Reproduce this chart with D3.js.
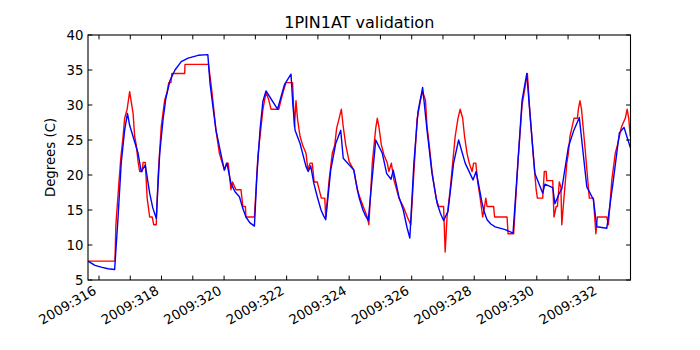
<!DOCTYPE html>
<html><head><meta charset="utf-8">
<script src="https://cdn.jsdelivr.net/npm/d3@7"></script>
<style>
html,body{margin:0;padding:0;background:#fff;}
svg{display:block;font-family:"DejaVu Sans",sans-serif;}
</style></head>
<body><svg id="c" width="700" height="350"></svg>
<script>
const title = "1PIN1AT validation";
const yLabel = "Degrees (C)";
const yTicks = [5,10,15,20,25,30,35,40];
const xTickDays = [316,317,318,319,320,321,322,323,324,325,326,327,328,329,330,331,332];
const xLabelDays = [316,318,320,322,324,326,328,330,332];
const xLabels = ["2009:316","2009:318","2009:320","2009:322","2009:324","2009:326","2009:328","2009:330","2009:332"];

const redDays = [315.65,316.51,316.54,316.64,316.70,316.77,316.82,316.90,316.98,317.09,317.14,317.19,317.25,317.30,317.38,317.41,317.48,317.54,317.62,317.70,317.75,317.83,317.89,317.99,318.10,318.18,318.23,318.30,318.33,318.74,318.75,319.50,319.58,319.64,319.74,319.85,319.93,320.01,320.08,320.13,320.22,320.27,320.38,320.54,320.60,320.68,320.70,320.97,321.08,321.24,321.34,321.43,321.50,321.75,321.82,321.89,321.98,322.19,322.25,322.30,322.35,322.43,322.51,322.62,322.68,322.75,322.82,322.88,322.98,323.04,323.11,323.22,323.25,323.36,323.46,323.54,323.60,323.68,323.75,323.81,323.89,324.00,324.15,324.26,324.35,324.45,324.58,324.63,324.74,324.85,324.90,324.95,325.03,325.11,325.22,325.27,325.35,325.43,325.52,325.59,325.73,325.86,325.97,326.17,326.28,326.35,326.44,326.49,326.56,326.65,326.70,326.78,326.86,327.02,327.07,327.13,327.23,327.31,327.39,327.48,327.55,327.63,327.69,327.77,327.84,327.93,327.98,328.05,328.11,328.19,328.27,328.33,328.37,328.41,328.62,328.65,329.05,329.08,329.26,329.40,329.53,329.70,329.76,329.89,329.98,330.02,330.19,330.24,330.30,330.32,330.51,330.55,330.62,330.66,330.72,330.77,330.80,330.96,331.01,331.06,331.12,331.19,331.30,331.33,331.38,331.43,331.54,331.68,331.81,331.89,331.94,332.24,332.29,332.40,332.51,332.58,332.64,332.71,332.83,332.89,332.94,332.99];
const redTemps = [7.7,7.7,12.9,19.1,22.6,25.5,28.1,29.4,31.9,28.8,25.5,24.3,21.9,20.5,20.5,21.8,21.8,16.7,14.0,14.0,12.9,12.9,19.8,26.9,30.7,31.9,33.2,33.2,34.5,34.5,35.8,35.8,33.1,30.7,26.4,23.1,21.9,20.7,21.7,21.7,17.9,19.0,17.9,17.9,15.5,15.5,14.0,14.0,22.6,29.3,31.8,30.7,29.4,29.4,30.7,31.9,33.2,33.2,26.9,30.6,27.9,25.5,24.3,23.1,20.7,21.7,21.7,19.0,19.0,17.9,16.7,16.7,14.0,19.3,23.1,24.3,26.7,28.1,29.4,26.9,24.3,21.9,20.7,17.9,16.7,15.5,14.0,12.9,21.7,26.7,28.1,26.9,24.3,22.9,21.7,20.5,21.7,19.3,17.9,16.7,15.5,14.0,12.9,27.9,30.7,31.9,30.7,26.9,24.3,20.5,19.0,16.7,15.5,15.5,9.0,14.0,17.9,21.7,25.5,28.1,29.4,28.1,25.5,23.1,21.7,20.5,21.7,21.7,19.0,16.7,14.0,15.5,16.7,15.5,15.5,14.0,14.0,11.6,11.6,22.0,30.0,34.5,30.2,22.6,17.9,16.7,16.7,20.5,20.5,19.2,19.2,14.0,15.5,15.5,19.0,18.3,12.9,21.7,23.1,25.5,26.7,28.1,28.1,29.4,30.6,29.4,24.0,16.7,16.7,11.6,14.0,14.0,12.9,19.3,23.1,24.3,25.5,26.9,28.1,29.4,28.1,25.5];

const blueDays = [315.65,315.87,316.10,316.29,316.50,316.61,316.71,316.82,316.91,316.98,317.25,317.35,317.48,317.62,317.72,317.83,317.94,318.05,318.14,318.27,318.43,318.63,318.85,319.17,319.48,319.55,319.65,319.74,319.96,320.01,320.09,320.22,320.35,320.49,320.60,320.70,320.82,320.97,321.05,321.15,321.24,321.34,321.71,321.93,322.14,322.20,322.27,322.43,322.62,322.69,322.77,322.87,322.98,323.10,323.18,323.25,323.41,323.57,323.73,323.81,324.15,324.22,324.31,324.44,324.52,324.61,324.85,325.06,325.20,325.34,325.41,325.59,325.73,325.85,325.94,326.07,326.20,326.35,326.49,326.65,326.81,326.92,327.02,327.16,327.34,327.50,327.71,327.96,328.06,328.25,328.33,328.41,328.53,328.67,328.99,329.24,329.37,329.53,329.68,329.78,329.94,330.19,330.26,330.51,330.58,330.72,330.80,331.01,331.17,331.36,331.60,331.81,331.92,332.24,332.45,332.64,332.79,332.88,333.00];
const blueTemps = [7.7,7.1,6.8,6.6,6.5,14.0,21.7,26.4,28.8,27.1,23.1,20.5,21.4,17.4,15.3,13.8,23.0,28.0,31.0,33.5,35.0,36.2,36.7,37.1,37.2,33.1,29.5,26.4,21.7,20.7,21.7,18.8,17.6,16.9,15.2,14.0,13.2,12.7,20.0,26.5,30.5,32.0,29.4,32.9,34.4,30.0,26.4,24.5,21.2,20.5,21.3,18.8,16.9,15.0,14.2,13.6,20.7,24.5,26.4,22.4,20.7,18.9,16.9,15.0,14.2,13.5,25.0,23.1,20.2,19.4,20.7,16.9,15.0,12.5,11.0,21.7,29.0,32.5,26.4,20.2,16.0,14.5,13.5,14.8,21.7,25.0,21.7,19.3,20.5,16.0,14.6,13.6,13.0,12.6,12.2,11.7,20.0,30.7,34.5,28.8,20.2,17.4,18.7,18.2,15.9,17.4,18.0,24.0,26.2,28.2,18.3,16.5,12.6,12.4,19.3,26.0,26.8,25.5,23.8];

const L=88, R=630.5, T=35, B=280;
const svg = d3.select("#c");
const x = d3.scaleLinear().domain([315.648,332.997]).range([L,R]);
const y = d3.scaleLinear().domain([5,40]).range([B,T]);

svg.append("defs").append("clipPath").attr("id","clip")
  .append("rect").attr("x",L).attr("y",T).attr("width",R-L).attr("height",B-T);

const line = d3.line().x(d=>x(d[0])).y(d=>y(d[1]));
const g = svg.append("g").attr("clip-path","url(#clip)");
g.append("path").datum(redDays.map((d,i)=>[d,redTemps[i]]))
  .attr("d",line).attr("fill","none").attr("stroke","#ff0000").attr("stroke-width",1.4).attr("stroke-linejoin","round");
g.append("path").datum(blueDays.map((d,i)=>[d,blueTemps[i]]))
  .attr("d",line).attr("fill","none").attr("stroke","#0000ff").attr("stroke-width",1.4).attr("stroke-linejoin","round");

const tl = 4.4;
const ax = svg.append("g").attr("stroke","#000").attr("stroke-width",1);
xTickDays.forEach(d=>{
  const xx = x(d);
  ax.append("line").attr("x1",xx).attr("x2",xx).attr("y1",B).attr("y2",B-tl);
  ax.append("line").attr("x1",xx).attr("x2",xx).attr("y1",T).attr("y2",T+tl);
});
yTicks.forEach(v=>{
  const yy = y(v);
  ax.append("line").attr("x1",L).attr("x2",L+tl).attr("y1",yy).attr("y2",yy);
  ax.append("line").attr("x1",R).attr("x2",R-tl).attr("y1",yy).attr("y2",yy);
});
svg.append("rect").attr("x",L).attr("y",T).attr("width",R-L).attr("height",B-T)
  .attr("fill","none").attr("stroke","#000").attr("stroke-width",1.1);

const fs = 13.3;
yTicks.forEach(v=>{
  svg.append("text").attr("x",L-4.5).attr("y",y(v)).attr("dy","0.36em")
    .attr("text-anchor","end").attr("font-size",fs).text(v);
});
xLabelDays.forEach((d,i)=>{
  const xx = x(d)-1.6, yy = B+4.4+8.8;
  svg.append("text").attr("transform",`translate(${xx},${yy}) rotate(-30)`)
    .attr("text-anchor","end").attr("font-size",fs).text(xLabels[i]);
});
svg.append("text").attr("x",(L+R)/2).attr("y",28).attr("text-anchor","middle")
  .attr("font-size",16).text(title);
svg.append("text").attr("transform",`translate(55,${(T+B)/2}) rotate(-90)`)
  .attr("text-anchor","middle").attr("font-size",fs).text(yLabel);
</script></body></html>
